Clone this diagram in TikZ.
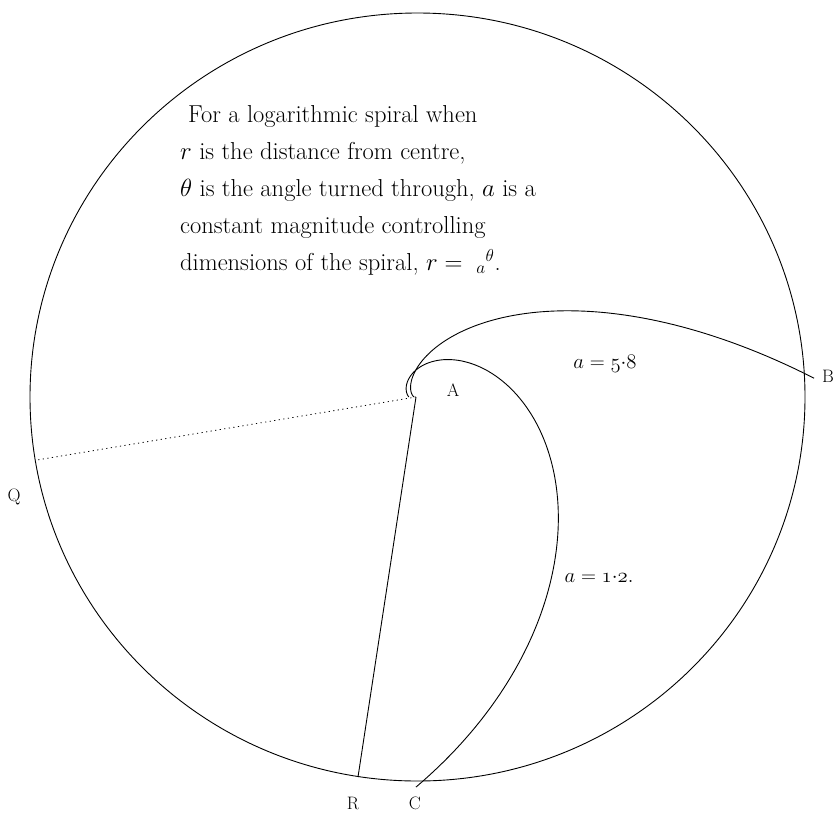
\documentclass[tikz,border=0pt]{standalone}
\usepackage{amsmath}
\usepackage{amssymb}
\begin{document}
\begin{tikzpicture}[x=1pt,y=-1pt,
  curve/.style={line width=0.9pt},
  lbl/.style={font=\fontsize{18}{18}\selectfont},
  eqn/.style={font=\fontsize{22}{22}\selectfont}]
  \useasboundingbox (0,0) rectangle (837,812);
  % boundary circle
  \draw[curve] (417.5,397) ellipse [x radius=387.5, y radius=384];
  \coordinate (O) at (416,397);
  \coordinate (Qend) at (37,460);
  \coordinate (Rend) at (358,777);
  % spirals
  \draw[curve] plot[domain=180:2.7,samples=220]
    ({416+398.5*exp(0.030683*(2.7-\x))*cos(\x)},{397-398.5*exp(0.030683*(2.7-\x))*sin(\x)});
  \draw[curve] plot[domain=180:-90,samples=260]
    ({416+390*exp(0.014835*(-90-\x))*cos(\x)},{397-390*exp(0.014835*(-90-\x))*sin(\x)});
  % radii
  \draw[curve] (O) -- (Rend);
  \draw[line width=0.8pt,dash pattern=on 1.2pt off 3.4pt] (O) -- (Qend);
  % labels
  \node[lbl] (A) at (453,390) {A};
  \node[lbl] (B) at (828,376) {B};
  \node[lbl] (Q) at (14,497) {Q};
  \node[lbl] (R) at (353,803) {R};
  \node[lbl] (C) at (415,803) {C};
  \node[eqn] (outer) at (605,364) {$a = \mathnormal{5}{\cdot}\mathnormal{8}$};
  \node[eqn] (inner) at (599,578) {$a = \mathnormal{1}{\cdot}\mathnormal{2}.$};
  \node[anchor=north west,align=left,inner sep=0pt,font=\fontsize{24.5}{37}\selectfont] (note) at (180,105)
    {\hspace*{8pt}For a logarithmic spiral when\\
     $r$ is the distance from centre,\\
     $\theta$ is the angle turned through, $a$ is a\\
     constant magnitude controlling\\
     dimensions of the spiral, $r = \;{}_{a}{}^{\theta}$.};
\end{tikzpicture}
\end{document}
